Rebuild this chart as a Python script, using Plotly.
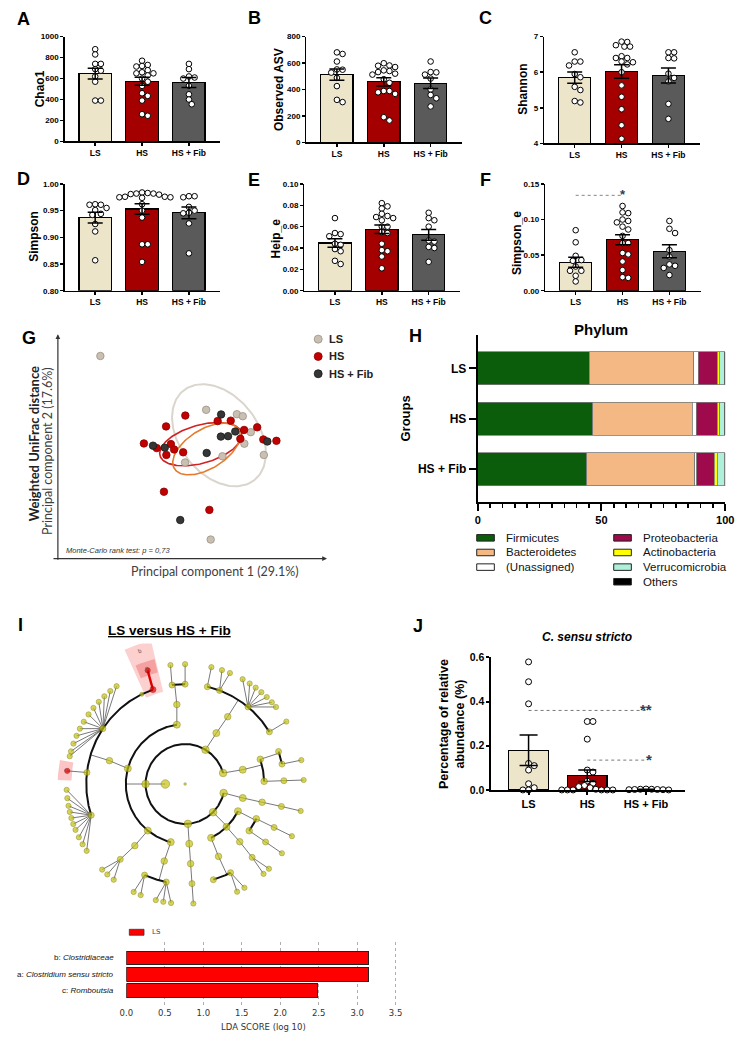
import numpy as np
import plotly.graph_objects as go

W, H = 747, 1049
ARIAL = "Liberation Sans, Arial, sans-serif"
DEJAVU = "DejaVu Sans, sans-serif"
LATO = "Lato, Liberation Sans, sans-serif"

groups = ["LS", "HS", "HS + Fib"]
group_fill = ["#ede5c9", "#a50000", "#5a5a5a"]

# ---------------- A-F: alpha diversity ----------------
chao1_vals = [[880, 830, 740, 740, 690, 675, 620, 570, 390, 390],
              [770, 730, 720, 715, 680, 660, 650, 650, 630, 600, 570, 530, 460, 435, 390, 260, 245],
              [740, 690, 620, 610, 600, 530, 450, 400, 355]]
chao1_mean = [647, 575, 562]
chao1_sem = [52, 38, 48]

asv_vals = [[681, 669, 612, 552, 550, 528, 488, 426, 322, 305],
            [599, 582, 580, 570, 545, 540, 532, 520, 513, 478, 451, 389, 389, 379, 367, 191, 166],
            [612, 532, 530, 513, 483, 401, 359, 334, 272]]
asv_mean = [513, 458, 448]
asv_sem = [43, 31, 40]

shannon_vals = [[6.56, 6.30, 6.30, 6.19, 5.95, 5.86, 5.59, 5.50, 5.19, 5.15],
                [6.86, 6.85, 6.76, 6.72, 6.72, 6.45, 6.40, 6.40, 6.30, 6.28, 6.22, 6.00, 5.63, 5.31, 4.96, 4.51, 4.13],
                [6.56, 6.56, 6.40, 6.39, 5.96, 5.84, 5.74, 5.11, 4.69]]
shannon_mean = [5.85, 6.02, 5.91]
shannon_sem = [0.16, 0.19, 0.21]

simpson_vals = [[0.962, 0.961, 0.961, 0.955, 0.951, 0.944, 0.942, 0.925, 0.911, 0.857],
                [0.984, 0.983, 0.982, 0.982, 0.981, 0.980, 0.976, 0.976, 0.975, 0.975, 0.974, 0.962, 0.950,
                 0.937, 0.887, 0.887, 0.854],
                [0.977, 0.977, 0.975, 0.957, 0.950, 0.946, 0.945, 0.926, 0.870]]
simpson_mean = [0.937, 0.953, 0.946]
simpson_sem = [0.010, 0.010, 0.011]

heip_vals = [[0.068, 0.054, 0.053, 0.051, 0.044, 0.043, 0.039, 0.037, 0.028, 0.025],
             [0.082, 0.079, 0.077, 0.072, 0.070, 0.069, 0.068, 0.066, 0.060, 0.060, 0.055, 0.054, 0.044,
              0.038, 0.037, 0.032, 0.021],
             [0.073, 0.068, 0.066, 0.060, 0.047, 0.046, 0.041, 0.040, 0.027]]
heip_mean = [0.0446, 0.0575, 0.0523]
heip_sem = [0.004, 0.004, 0.005]

simpe_vals = [[0.085, 0.068, 0.049, 0.043, 0.042, 0.034, 0.028, 0.028, 0.021, 0.013],
              [0.119, 0.110, 0.109, 0.100, 0.098, 0.096, 0.090, 0.086, 0.077, 0.067, 0.067, 0.053, 0.051,
               0.041, 0.029, 0.019, 0.018],
              [0.098, 0.087, 0.081, 0.057, 0.048, 0.037, 0.035, 0.032, 0.022]]
simpe_mean = [0.040, 0.0715, 0.0554]
simpe_sem = [0.007, 0.007, 0.009]

chao1_ticks = [0, 200, 400, 600, 800, 1000]
asv_ticks = [0, 200, 400, 600, 800]
shannon_ticks = [4, 5, 6, 7]
simpson_ticks = [0.80, 0.85, 0.90, 0.95, 1.00]
heip_ticks = [0.00, 0.02, 0.04, 0.06, 0.08, 0.10]
simpe_ticks = [0.00, 0.05, 0.10, 0.15]

# ---------------- G: PCoA ----------------
pc_ls_x = [0.159, 0.555, 0.670, 0.692, 0.722, 0.698, 0.771, 0.616, 0.476, 0.572]
pc_ls_y = [0.915, 0.672, 0.652, 0.643, 0.571, 0.519, 0.468, 0.462, 0.434, 0.086]
pc_hs_x = [0.477, 0.405, 0.598, 0.647, 0.697, 0.746, 0.683, 0.769, 0.818, 0.322, 0.370, 0.423, 0.435,
           0.406, 0.469, 0.397, 0.567]
pc_hs_y = [0.646, 0.597, 0.621, 0.623, 0.581, 0.593, 0.541, 0.538, 0.532, 0.520, 0.499, 0.517, 0.493,
           0.468, 0.480, 0.302, 0.220]
pc_fib_x = [0.611, 0.664, 0.610, 0.637, 0.784, 0.356, 0.400, 0.557, 0.458]
pc_fib_y = [0.651, 0.574, 0.551, 0.553, 0.529, 0.510, 0.501, 0.477, 0.174]
# confidence ellipses: centre (pc units), semi-axes (px), rotation (deg)
ell_center = [(0.603, 0.557), (0.535, 0.517), (0.556, 0.495)]
ell_axes = [(58, 40), (43.3, 19.3), (38.3, 20.0)]
ell_angle = [-51, 15.6, 31]
pc_marker = ["#c9bfb2", "#c30000", "#363636"]
pc_marker_line = ["#9c9284", "#8a0000", "#1a1a1a"]
ell_color = ["#dad6ce", "#d42020", "#e57a2c"]

# ---------------- H: phylum composition ----------------
phyla = ["Firmicutes", "Bacteroidetes", "(Unassigned)", "Proteobacteria", "Actinobacteria",
         "Verrucomicrobia", "Others"]
phylum_colors = ["#0b5d0b", "#f3b883", "#ffffff", "#9e0a4b", "#ffff00", "#aef0da", "#000000"]
phylum_ls = [45.0, 42.3, 1.7, 7.8, 0.8, 1.9, 0.5]
phylum_hs = [46.5, 40.2, 1.6, 8.4, 1.0, 1.8, 0.5]
phylum_fib = [44.0, 43.6, 0.9, 7.0, 1.3, 3.0, 0.2]

# ---------------- I: cladogram + LDA ----------------
clado_nodes = [
    ("root", None, 0, 0.0), ("k", "root", 1, 180.0),
    ("p1", "k", 2, 180.0), ("p2", "k", 2, 59.0), ("p3", "k", 2, 16.0),
    ("p4", "k", 2, 347.0), ("p5", "k", 2, 315.0), ("p6", "k", 2, 274.0),
    ("c1a", "p1", 3, 98.0), ("c1b", "p1", 3, 165.0), ("c1c", "p1", 3, 231.0), ("c1d", "p1", 3, 256.0),
    ("o1a", "c1a", 4, 96.0), ("f1a1", "o1a", 5, 97.6), ("f1a2", "o1a", 5, 90.0),
    ("g1a1", "f1a1", 6, 97.1), ("g1a2", "f1a2", 6, 90.0),
    ("o1b", "c1b", 4, 163.0),
    ("f_clos", "o1b", 5, 109.0), ("f1b2", "o1b", 5, 116.0), ("f_lach", "o1b", 5, 146.3),
    ("f_pept", "o1b", 5, 173.4), ("f_rum", "o1b", 5, 198.2),
    ("g_css", "f_clos", 6, 108.4), ("g_romb", "f_pept", 6, 173.7),
    ("o1c", "c1c", 4, 230.5), ("f1c", "o1c", 5, 229.0),
    ("o1d", "c1d", 4, 254.7), ("f1d1", "o1d", 5, 245.8), ("f1d2", "o1d", 5, 259.0),
    ("c6", "p6", 3, 274.0), ("o6", "c6", 4, 274.0), ("f6", "o6", 5, 274.0), ("g6", "f6", 6, 274.0),
    ("c5a", "p5", 3, 296.0), ("c5b", "p5", 3, 314.3), ("c5c", "p5", 3, 333.0),
    ("o5a", "c5a", 4, 295.0), ("f5a1", "o5a", 5, 286.6), ("f5a2", "o5a", 5, 297.4),
    ("o5b", "c5b", 4, 313.7), ("f5b", "o5b", 5, 312.7),
    ("o5c1", "c5c", 4, 324.2), ("o5c2", "c5c", 4, 334.2),
    ("f5c1", "o5c1", 5, 324.5), ("g5c1", "f5c1", 6, 324.7),
    ("f5c2", "o5c2", 5, 334.2), ("g5c2", "f5c2", 6, 334.2),
    ("c4", "p4", 3, 346.5), ("o4", "c4", 4, 346.8), ("f4", "o4", 5, 347.0), ("g4", "f4", 6, 347.0),
    ("c3", "p3", 3, 13.8), ("o3a", "c3", 4, 18.0), ("o3b", "c3", 4, 1.9),
    ("f3a1", "o3a", 5, 19.0), ("f3a2", "o3a", 5, 11.5), ("g3a2", "f3a2", 6, 11.5),
    ("f3b", "o3b", 5, 1.9), ("g3b", "f3b", 6, 1.9),
    ("c2", "p2", 3, 58.2), ("o2", "c2", 4, 57.4),
    ("f2a", "o2", 5, 77.0), ("f2b", "o2", 5, 69.6), ("f2c", "o2", 5, 50.5), ("f2d", "o2", 5, 31.5),
    ("g2a", "f2a", 6, 77.2), ("g2d", "f2d", 6, 31.4),
]
clado_leaf_fans = {
    "f_lach": [125.3, 129.1, 132.9, 136.7, 140.6, 144.5, 148.7, 152.5, 156.3, 160.3, 164.2, 166.6],
    "f_rum": [182.8, 186.8, 190.5, 193.5, 196.5, 199.5, 202.5, 206.4, 210.2, 213.9],
    "f1c": [225.6, 229.0, 233.0],
    "f1d1": [244.3, 248.0],
    "f1d2": [255.7, 259.4, 263.2],
    "f5a2": [296.0, 300.0],
    "f5b": [311.4, 315.0],
    "f2b": [71.9, 67.8],
    "f2c": [61.0, 57.0, 53.5, 50.0, 46.5, 43.0, 40.0],
}
clado_arc_parents = ["k", "p1", "o1a", "o1b", "o1d", "p5", "o5a", "c5c", "c3", "o3a", "o2"]
clado_enriched = ["f_clos", "g_css", "g_romb"]
clado_labels = [("b", "f_clos"), ("a", "g_css"), ("c", "g_romb")]

lda_taxa = ["b: <i>Clostridiaceae</i>", "a: <i>Clostridium sensu stricto</i>", "c: <i>Romboutsia</i>"]
lda_scores = [3.15, 3.15, 2.49]
lda_ticks = [0.0, 0.5, 1.0, 1.5, 2.0, 2.5, 3.0, 3.5]

# ---------------- J: C. sensu stricto ----------------
css_vals = [[0.58, 0.49, 0.39, 0.12, 0.11, 0.09, 0.028, 0.01, 0.0, 0.0],
            [0.31, 0.31, 0.23, 0.09, 0.081, 0.04, 0.03, 0.02, 0.015, 0.01, 0.003, 0.0, 0.0, 0.0, 0.0, 0.0, 0.0],
            [0.004, 0.003, 0.003, 0.002, 0.002, 0.001, 0.001, 0.0]]
css_mean = [0.180, 0.064, 0.002]
css_sem = [0.069, 0.026, 0.001]
css_ticks = [0.0, 0.2, 0.4, 0.6]

# =====================================================================
fig = go.Figure()
layout = dict(width=W, height=H, margin=dict(l=0, r=0, t=0, b=0), autosize=False,
              paper_bgcolor="white", plot_bgcolor="white", showlegend=False, barmode="stack",
              shapes=[], annotations=[])


def dxp(a, b):
    return [a / W, b / W]


def dyp(a, b):
    return [1 - b / H, 1 - a / H]


def names(i):
    return ("x" if i == 1 else f"x{i}", "y" if i == 1 else f"y{i}",
            "xaxis" if i == 1 else f"xaxis{i}", "yaxis" if i == 1 else f"yaxis{i}")


def text(x, y, s, size, family=ARIAL, weight="normal", color="black", angle=0, xanchor="center",
         yanchor="middle", style="normal", xref="paper", yref="paper"):
    layout["annotations"].append(dict(
        x=x / W if xref == "paper" else x, y=1 - y / H if yref == "paper" else y,
        xref=xref, yref=yref, text=s, showarrow=False, textangle=angle,
        xanchor=xanchor, yanchor=yanchor,
        font=dict(family=family, size=size, color=color, weight=weight, style=style)))


def swarm(vals, ppu_y, d=5.8):
    v = np.asarray(vals, float)
    ypx = v * ppu_y
    order = np.argsort(-v, kind="stable")
    placed = []
    offs = np.zeros(len(v))
    step = d / 2.0
    cands = [0.0]
    for k in range(1, 16):
        cands += [k * step, -k * step]
    for i in order:
        for c in cands:
            if all((c - px) ** 2 + (ypx[i] - py) ** 2 >= (d * 0.9) ** 2 for px, py in placed):
                offs[i] = c
                placed.append((c, ypx[i]))
                break
    return offs


def bar_panel(i, vals, means, sems, ytitle, ticks, fmt, box, tpos, xr=(-0.65, 2.67), bw=0.69,
              yfs=8, xfs=8.5, tfs=12, lw=1.5, ms=5.6, cap=7.5):
    xa, ya, xk, yk = names(i)
    x0, x1, y0, y1 = box
    yr = [ticks[0], ticks[-1]]
    ppu_y = (y1 - y0) / (yr[1] - yr[0])
    ppu_x = (x1 - x0) / (xr[1] - xr[0])
    fig.add_trace(go.Bar(x=[0, 1, 2], y=[m - yr[0] for m in means], base=yr[0], width=bw,
                         marker=dict(color=group_fill, line=dict(color="black", width=1.2)),
                         xaxis=xa, yaxis=ya, hoverinfo="skip"))
    for g in range(3):
        offs = swarm(vals[g], ppu_y) / ppu_x
        fig.add_trace(go.Scatter(x=g + offs, y=vals[g], mode="markers", cliponaxis=False,
                                 marker=dict(size=ms, color="white", line=dict(color="black", width=1)),
                                 xaxis=xa, yaxis=ya, hoverinfo="skip"))
    fig.add_trace(go.Scatter(x=[0, 1, 2], y=means, mode="markers", marker=dict(size=1, color="rgba(0,0,0,0)"),
                             error_y=dict(type="data", array=sems, width=cap, thickness=1.5, color="black"),
                             xaxis=xa, yaxis=ya, hoverinfo="skip", cliponaxis=False))
    layout[xk] = dict(domain=dxp(x0, x1), range=list(xr), anchor=ya, tickvals=[0, 1, 2], ticktext=groups,
                      showline=True, linewidth=lw, linecolor="black", ticks="outside", ticklen=3,
                      tickwidth=lw, tickcolor="black", showgrid=False, zeroline=False,
                      tickfont=dict(family=ARIAL, size=xfs, color="black", weight="bold"))
    layout[yk] = dict(domain=dyp(y0, y1), range=yr, anchor=xa, tickvals=ticks, tickformat=fmt,
                      showline=True, linewidth=lw, linecolor="black", ticks="outside", ticklen=3,
                      tickwidth=lw, tickcolor="black", showgrid=False, zeroline=False,
                      tickfont=dict(family=ARIAL, size=yfs, color="black", weight="bold"))
    text(tpos[0], tpos[1], ytitle, tfs, weight="bold", angle=-90)


bar_panel(1, chao1_vals, chao1_mean, chao1_sem, "Chao1", chao1_ticks, "d", (59, 218, 31, 137), (34, 84))
bar_panel(2, asv_vals, asv_mean, asv_sem, "Observed ASV", asv_ticks, "d", (306, 465, 31, 138), (278, 85))
bar_panel(3, shannon_vals, shannon_mean, shannon_sem, "Shannon", shannon_ticks, "d", (549, 708, 31, 139), (527, 84))
bar_panel(4, simpson_vals, simpson_mean, simpson_sem, "Simpson", simpson_ticks, ".2f", (59, 218, 180, 288), (28, 233))
bar_panel(5, heip_vals, heip_mean, heip_sem, "Heip_e", heip_ticks, ".2f", (304, 463, 180, 288), (275, 235))
bar_panel(6, simpe_vals, simpe_mean, simpe_sem, "Simpson_e", simpe_ticks, ".2f", (550, 709, 180, 288), (521, 240))

# significance in F
layout["shapes"].append(dict(type="line", xref="x6", yref="y6", x0=0, x1=1, y0=0.134, y1=0.134,
                             line=dict(color="#666", width=0.8, dash="dot")))
layout["annotations"].append(dict(x=1, y=0.134, xref="x6", yref="y6", text="*", showarrow=False,
                                  yanchor="middle", yshift=1, font=dict(family=ARIAL, size=13, weight="bold")))

# J panel
bar_panel(11, css_vals, css_mean, css_sem, "Percentage of relative<br>abundance (%)", css_ticks, ".1f",
          (495, 693, 659, 793), (454, 726), xr=(-0.633, 2.667), bw=0.67, yfs=10.5, xfs=11, tfs=12.5, lw=2,
          ms=6, cap=9)
for ga, gb, yv, star in [(0, 2, 0.36, "**"), (1, 2, 0.135, "*")]:
    layout["shapes"].append(dict(type="line", xref="x11", yref="y11", x0=ga, x1=gb, y0=yv, y1=yv,
                                 line=dict(color="#555", width=0.8, dash="dot")))
    layout["annotations"].append(dict(x=gb, y=yv, xref="x11", yref="y11", text=star, showarrow=False,
                                      xanchor="right", xshift=8, yanchor="middle", yshift=1,
                                      font=dict(family=ARIAL, size=15, weight="bold")))
text(593, 638, "<i>C. sensu stricto</i>", 12, weight="bold")

# ---------------- G ----------------
GX0, GX1, GY0, GY1 = 52, 325, 335, 559
gppx, gppy = GX1 - GX0, GY1 - GY0
t = np.linspace(0, 2 * np.pi, 181)
for (cx, cy), (a, b), ang, col in zip(ell_center, ell_axes, ell_angle, ell_color):
    ca, sa = np.cos(np.radians(ang)), np.sin(np.radians(ang))
    xp = a * np.cos(t) * ca - b * np.sin(t) * sa
    yp = a * np.cos(t) * sa + b * np.sin(t) * ca
    fig.add_trace(go.Scatter(x=cx + xp / gppx, y=cy + yp / gppy, mode="lines",
                             line=dict(color=col, width=2.0 if col == ell_color[0] else 1.6),
                             xaxis="x7", yaxis="y7", hoverinfo="skip"))
for xs, ys, c, lc in zip([pc_ls_x, pc_hs_x, pc_fib_x], [pc_ls_y, pc_hs_y, pc_fib_y], pc_marker, pc_marker_line):
    fig.add_trace(go.Scatter(x=xs, y=ys, mode="markers", marker=dict(size=7.5, color=c, line=dict(color=lc, width=0.8)),
                             xaxis="x7", yaxis="y7", hoverinfo="skip", cliponaxis=False))
layout["xaxis7"] = dict(domain=dxp(GX0, GX1), range=[0, 1], anchor="y7", visible=False)
layout["yaxis7"] = dict(domain=dyp(GY0, GY1), range=[0, 1], anchor="x7", visible=False)
# axis arrows
layout["annotations"].append(dict(x=GX0 / W, y=1 - (GY0 - 3) / H, xref="paper", yref="paper", text="",
                                  showarrow=True, ax=0, ay=GY1 - GY0 + 3, axref="pixel", ayref="pixel",
                                  arrowhead=2, arrowsize=0.8, arrowwidth=1.2, arrowcolor="#333", standoff=0))
layout["annotations"].append(dict(x=(GX1 + 2) / W, y=1 - GY1 / H, xref="paper", yref="paper", text="",
                                  showarrow=True, ax=-(GX1 - GX0 + 2), ay=0, axref="pixel", ayref="pixel",
                                  arrowhead=2, arrowsize=0.8, arrowwidth=1.2, arrowcolor="#333", standoff=0))
text(213, 572, "Principal component 1 (29.1%)", 12.5, family=LATO, color="#404040")
text(28, 443, "Weighted UniFrac distance", 13, family=LATO, color="#222", angle=-90, weight="bold")
text(42, 450, "Principal component 2 (17.6%)", 12.5, family=LATO, color="#404040", angle=-90)
text(58, 551, "Monte-Carlo rank test: p = 0,73", 7.5, color="#333", xanchor="left", style="italic")
for k, g in enumerate(groups):
    yc = 337 + k * 17.5
    layout["shapes"].append(dict(type="circle", xref="paper", yref="paper", xsizemode="pixel", ysizemode="pixel",
                                 xanchor=318 / W, yanchor=1 - yc / H, x0=-4, x1=4, y0=-4, y1=4,
                                 fillcolor=pc_marker[k], line=dict(color=pc_marker_line[k], width=0.8)))
    text(327, yc, g, 11, weight="bold", color="#222", xanchor="left")

# ---------------- H ----------------
comp = [phylum_ls, phylum_hs, phylum_fib]
for j, (ph, col) in enumerate(zip(phyla, phylum_colors)):
    fig.add_trace(go.Bar(y=[0, 1, 2], x=[c[j] for c in comp], orientation="h", width=0.66,
                         marker=dict(color=col, line=dict(color="#7a7a7a", width=0.8)),
                         xaxis="x8", yaxis="y8", hoverinfo="skip"))
layout["xaxis8"] = dict(domain=dxp(481, 734), range=[0, 100], anchor="y8", tickvals=[0, 50, 100],
                        showline=True, linewidth=2, linecolor="black", ticks="outside", ticklen=7, tickwidth=2,
                        tickcolor="black", showgrid=False, zeroline=False,
                        minor=dict(dtick=5, ticks="outside", ticklen=4, tickwidth=1.5, tickcolor="black"),
                        tickfont=dict(family=ARIAL, size=11, color="black", weight="bold"))
layout["yaxis8"] = dict(domain=dyp(333, 502), range=[2.657, -0.657], anchor="x8", tickvals=[0, 1, 2],
                        ticktext=groups, showline=True, linewidth=2, linecolor="black", ticks="outside",
                        ticklen=7, tickwidth=2, tickcolor="black", showgrid=False, zeroline=False,
                        tickfont=dict(family=ARIAL, size=12, color="black", weight="bold"))
text(607, 327, "Phylum", 15, weight="bold")
text(407, 417, "Groups", 13, weight="bold", angle=-90)
for j, (ph, col) in enumerate(zip(phyla, phylum_colors)):
    cidx, row = (0, j) if j < 3 else (1, j - 3)
    bx = 480 + cidx * 140
    by = 538 + row * 14.8
    layout["shapes"].append(dict(type="rect", xref="paper", yref="paper", x0=bx / W, x1=(bx + 18) / W,
                                 y0=1 - (by + 3.3) / H, y1=1 - (by - 3.3) / H, fillcolor=col,
                                 line=dict(color="#222", width=1)))
    text(bx + 28, by, ph, 11.5, xanchor="left", color="#111")

# ---------------- I: cladogram ----------------
CX, CY = 182, 787
RSTEP = 20.2
nodes = {n: (p, l, a) for n, p, l, a in clado_nodes}
order_names = [n for n, _, _, _ in clado_nodes]
for fam, angs in clado_leaf_fans.items():
    for q, a in enumerate(angs):
        nm = f"{fam}_g{q}"
        nodes[nm] = (fam, 6, a)
        order_names.append(nm)
children = {}
for n in order_names:
    p = nodes[n][0]
    if p is not None:
        children.setdefault(p, []).append(n)


def pol(l, a):
    r = RSTEP * l
    return r * np.cos(np.radians(a)), r * np.sin(np.radians(a))


# highlight sectors
hl_cols = {"b": "rgba(250,150,150,0.45)", "a": "rgba(235,85,85,0.38)", "c": "rgba(250,150,150,0.55)"}
for lab, nd in clado_labels:
    _, l, a = nodes[nd]
    half = 5.5 if l == 5 else 4.5
    r0 = RSTEP * l - 5
    r1 = RSTEP * 6 + 9 + (6 - l) * 19
    tt = np.radians(np.linspace(a - half, a + half, 24))
    xs = np.concatenate([r1 * np.cos(tt), r0 * np.cos(tt[::-1]), [r1 * np.cos(tt[0])]])
    ys = np.concatenate([r1 * np.sin(tt), r0 * np.sin(tt[::-1]), [r1 * np.sin(tt[0])]])
    fig.add_trace(go.Scatter(x=xs, y=ys, mode="lines", fill="toself", fillcolor=hl_cols[lab],
                             line=dict(width=0, color="rgba(0,0,0,0)"), xaxis="x9", yaxis="y9", hoverinfo="skip"))
    rl = r1 - 7
    layout["annotations"].append(dict(x=rl * np.cos(np.radians(a)), y=rl * np.sin(np.radians(a)), xref="x9",
                                      yref="y9", text=lab, showarrow=False, textangle=90 - a,
                                      font=dict(family=ARIAL, size=6, color="#555")))

thin_x, thin_y, thick_x, thick_y, red_x, red_y = [], [], [], [], [], []
for p, kids in children.items():
    if p == "root":
        continue
    _, pl, pa = nodes[p]
    if p in clado_arc_parents:
        cl = pl + 1
        x0, y0 = pol(pl, pa)
        x1, y1 = pol(cl, pa)
        thin_x += [x0, x1, None]
        thin_y += [y0, y1, None]
        angs = [nodes[k][2] for k in kids] + [pa]
        tt = np.radians(np.linspace(min(angs), max(angs), int(max(angs) - min(angs)) * 2 + 2))
        thick_x += list(RSTEP * cl * np.cos(tt)) + [None]
        thick_y += list(RSTEP * cl * np.sin(tt)) + [None]
    else:
        for k in kids:
            x0, y0 = pol(pl, pa)
            x1, y1 = pol(nodes[k][1], nodes[k][2])
            if p in clado_enriched and k in clado_enriched:
                red_x += [x0, x1, None]
                red_y += [y0, y1, None]
            else:
                thin_x += [x0, x1, None]
                thin_y += [y0, y1, None]
fig.add_trace(go.Scatter(x=thin_x, y=thin_y, mode="lines", line=dict(color="#555", width=0.8),
                         xaxis="x9", yaxis="y9", hoverinfo="skip"))
fig.add_trace(go.Scatter(x=thick_x, y=thick_y, mode="lines", line=dict(color="#111", width=2),
                         xaxis="x9", yaxis="y9", hoverinfo="skip"))
fig.add_trace(go.Scatter(x=red_x, y=red_y, mode="lines", line=dict(color="#e00000", width=2.4),
                         xaxis="x9", yaxis="y9", hoverinfo="skip"))
size_by_level = {0: 2.5, 1: 8.5, 2: 7.5, 3: 7.0, 4: 6.5, 5: 6.0, 6: 5.2}
nx, ny, ns, nc, nl = [], [], [], [], []
for n in order_names:
    _, l, a = nodes[n]
    x, y = pol(l, a)
    nx.append(x)
    ny.append(y)
    ns.append(4.0 if n == "f1b2" else size_by_level[l])
    red = n in clado_enriched
    nc.append("#e80000" if red else "#c6c414")
    nl.append("#900000" if red else "#7d7b00")
fig.add_trace(go.Scatter(x=nx, y=ny, mode="markers", marker=dict(size=ns, color=nc, line=dict(color=nl, width=0.7)),
                         xaxis="x9", yaxis="y9", hoverinfo="skip", cliponaxis=False))
layout["xaxis9"] = dict(domain=dxp(40, 325), range=[40 - CX, 325 - CX], anchor="y9", visible=False)
layout["yaxis9"] = dict(domain=dyp(645, 930), range=[CY - 930, CY - 645], anchor="x9", visible=False)
text(166, 632, "<u>LS versus HS + Fib</u>", 13.5, weight="bold")

# LDA bars
fig.add_trace(go.Bar(x=lda_scores, y=[0, 1, 2], orientation="h", width=0.85,
                     marker=dict(color="#ff0000", line=dict(color="#222", width=1)),
                     xaxis="x10", yaxis="y10", hoverinfo="skip"))
layout["xaxis10"] = dict(domain=dxp(122, 405), range=[0, 3.6], anchor="y10", tickvals=lda_ticks,
                         tickformat=".1f", showgrid=True, gridcolor="#9a9a9a", griddash="dot", gridwidth=0.8,
                         showline=False, zeroline=False, ticks="",
                         tickfont=dict(family=DEJAVU, size=8.5, color="#333"))
layout["yaxis10"] = dict(domain=dyp(947, 1012), range=[2.97, -0.97], anchor="x10", visible=False)
for k, lab in enumerate(lda_taxa):
    layout["annotations"].append(dict(x=111 / W, y=k, xref="paper", yref="y10", text=lab, showarrow=False,
                                      xanchor="right", yanchor="middle",
                                      font=dict(family=ARIAL, size=8, color="#111")))
text(262, 1033, "LDA SCORE (log 10)", 8.5, family=DEJAVU, color="#333")
layout["shapes"].append(dict(type="rect", xref="paper", yref="paper", x0=125 / W, x1=140 / W,
                             y0=1 - 940 / H, y1=1 - 934 / H, fillcolor="#ff0000", line=dict(color="#333", width=0.8)))
text(146, 937, "LS", 7, family=DEJAVU, color="#444", xanchor="left")

# panel letters
for lab, x, y in [("A", 17, 13), ("B", 253, 12), ("C", 489, 12), ("D", 17, 175), ("E", 252, 176),
                  ("F", 489, 176), ("G", 22, 336), ("H", 417, 334), ("I", 14, 626), ("J", 420, 627)]:
    text(x, y, lab, 18, weight="bold")

fig.update_layout(layout)
fig.write_html("out.html", config={"displayModeBar": False, "staticPlot": True},
               post_script="document.body.style.margin='0px';document.body.style.padding='0px';"
                           "document.documentElement.style.overflow='hidden';")
